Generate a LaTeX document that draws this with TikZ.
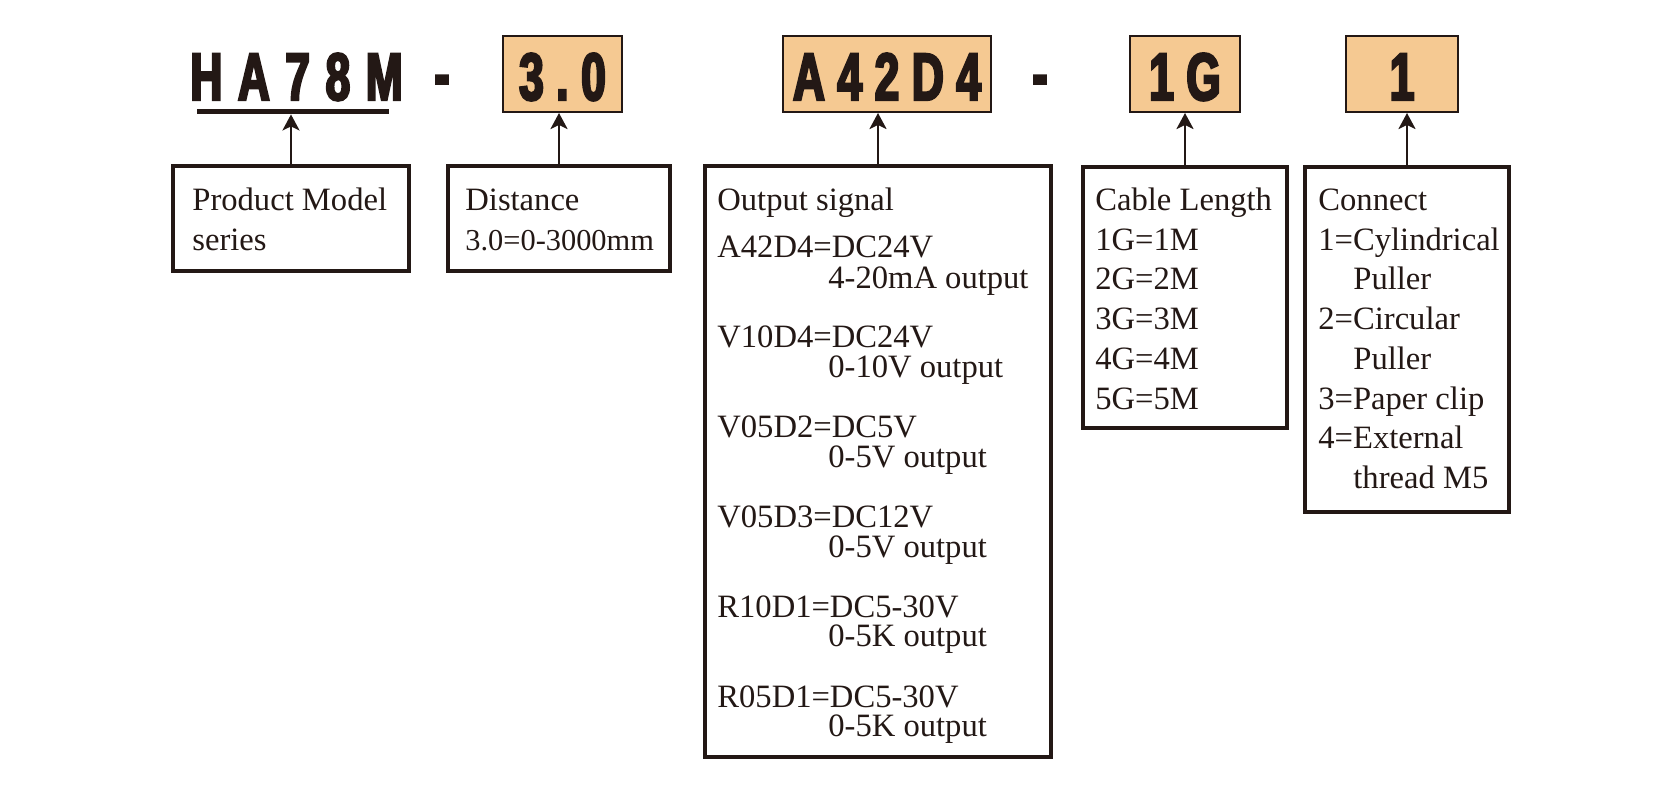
\documentclass[tikz,border=0pt]{standalone}
\usepackage{fontspec}
\setmainfont{Liberation Serif}
\newfontfamily\hdr[FakeStretch=0.66,FakeBold=3.5]{Liberation Sans Bold}
\usetikzlibrary{arrows.meta,fit}
\definecolor{ink}{RGB}{35,24,21}
\definecolor{peach}{RGB}{245,201,146}
\newcommand{\gp}{\hspace{6.3pt}}
\tikzset{
  wbox/.style={draw=ink,line width=1.65pt,fill=white,inner sep=0pt},
  pbox/.style={draw=ink,line width=1pt,fill=peach,inner sep=0pt},
  arr/.style={draw=ink,line width=1.3pt,-{Stealth[length=8pt,width=8.5pt,inset=2pt]}},
  txt/.style={anchor=base west,inner sep=0pt,text=ink,font=\fontsize{16.3pt}{19pt}\selectfont},
  stxt/.style={anchor=base west,inner sep=0pt,text=ink,font=\fontsize{15.2pt}{18pt}\selectfont},
  htxt/.style={anchor=base,text=ink,inner sep=0pt,font=\hdr\fontsize{33.5pt}{33.5pt}\selectfont},
}
\begin{document}
\begin{tikzpicture}[x=0.5pt,y=-0.5pt]
\useasboundingbox (0,0) rectangle (1661,799);
% header row
\node[htxt,anchor=base west] (hm) at (190,100) {H\hspace{7.8pt}A\hspace{7.8pt}7\hspace{7.8pt}8\hspace{7.8pt}M};
\node[fill=ink,inner sep=0pt,fit={(197,109) (389,114)}] (ul) {};
\node[htxt] (d1) at (442,97) {-};
\node[pbox,fit={(503,36) (622,112)}] (b30) {};
\node[htxt] at (b30.center |- 0,100) {3\gp.\gp0};
\node[pbox,fit={(783,36) (991,112)}] (bsig) {};
\node[htxt] at (bsig.center |- 0,100) {A\gp4\gp2\gp D\gp4};
\node[htxt] (d2) at (1040,97) {-};
\node[pbox,fit={(1130,36) (1240,112)}] (bcab) {};
\node[htxt] at (bcab.center |- 0,100) {1\gp G};
\node[pbox,fit={(1346,36) (1458,112)}] (bcon) {};
\node[htxt] at (bcon.center |- 0,100) {1};
% boxes
\node[wbox,fit={(173,166) (409,271)}] (pm) {};
\node[txt] at (192,210) {Product Model};
\node[txt] at (192,250) {series};
\node[wbox,fit={(448,166) (670,271)}] (dist) {};
\node[txt] at (465,210) {Distance};
\node[stxt] at (465,250) {3.0=0-3000mm};
\node[wbox,fit={(705,166) (1051,757)}] (sig) {};
\node[txt] at (717,210) {Output signal};
\node[txt] at (717,257) {A42D4=DC24V};
\node[txt] at (828,288) {4-20mA output};
\node[txt] at (717,347) {V10D4=DC24V};
\node[txt] at (828,377) {0-10V output};
\node[txt] at (717,437) {V05D2=DC5V};
\node[txt] at (828,467) {0-5V output};
\node[txt] at (717,527) {V05D3=DC12V};
\node[txt] at (828,557) {0-5V output};
\node[txt] at (717,617) {R10D1=DC5-30V};
\node[txt] at (828,646) {0-5K output};
\node[txt] at (717,707) {R05D1=DC5-30V};
\node[txt] at (828,736) {0-5K output};
\node[wbox,fit={(1083,167) (1287,428)}] (cab) {};
\node[txt] at (1095,210) {Cable Length};
\node[txt] at (1095,250) {1G=1M};
\node[txt] at (1095,289) {2G=2M};
\node[txt] at (1095,329) {3G=3M};
\node[txt] at (1095,369) {4G=4M};
\node[txt] at (1095,409) {5G=5M};
\node[wbox,fit={(1305,167) (1509,512)}] (con) {};
\node[txt] at (1318,210) {Connect};
\node[txt] at (1318,250) {1=Cylindrical};
\node[txt] at (1353,289) {Puller};
\node[txt] at (1318,329) {2=Circular};
\node[txt] at (1353,369) {Puller};
\node[txt] at (1318,409) {3=Paper clip};
\node[txt] at (1318,448) {4=External};
\node[txt] at (1353,488) {thread M5};
% arrows
\draw[arr] (pm.north) -- (pm.north |- ul.south);
\draw[arr] (dist.north) -- (dist.north |- b30.south);
\draw[arr] (sig.north) -- (sig.north |- bsig.south);
\draw[arr] (cab.north) -- (cab.north |- bcab.south);
\draw[arr] (con.north) -- (con.north |- bcon.south);
\end{tikzpicture}
\end{document}
